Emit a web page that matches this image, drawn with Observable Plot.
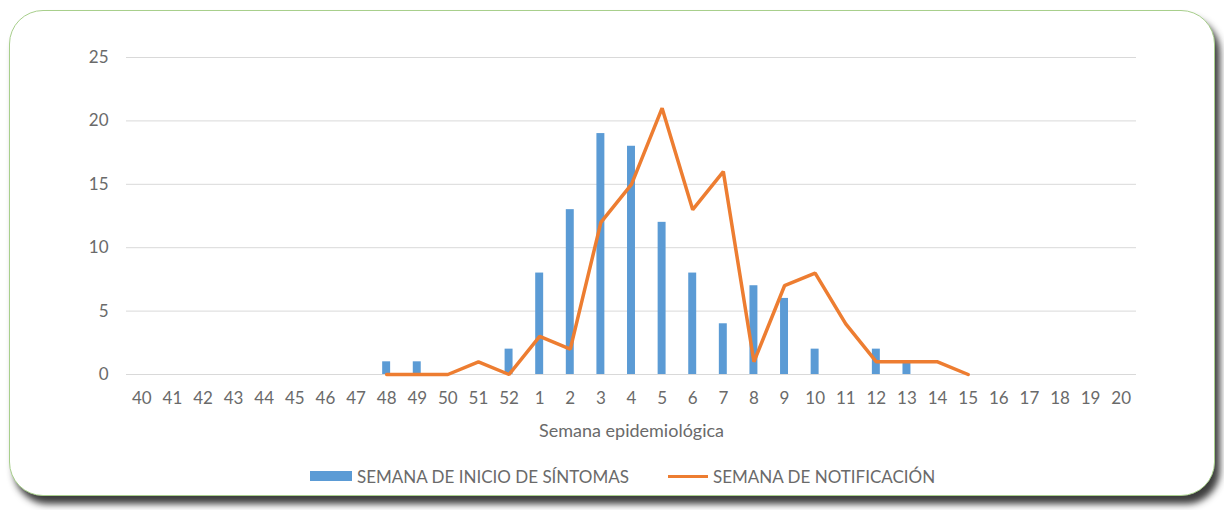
<!DOCTYPE html>
<html><head><meta charset="utf-8">
<script src="https://cdn.jsdelivr.net/npm/d3@7"></script>
<script src="https://cdn.jsdelivr.net/npm/@observablehq/plot@0.6"></script>
<style>
body{margin:0;background:#fff;font-family:Lato,sans-serif;width:1224px;height:510px;overflow:hidden;position:relative;}
#frame{position:absolute;left:9px;top:10px;width:1204px;height:484px;border:1px solid #a8cf8c;border-radius:34px;box-shadow:5px 8px 7px rgba(40,40,40,0.9);background:#fff;}
#chart{position:absolute;left:0;top:0;}
#legend{position:absolute;top:466px;left:0;width:1224px;height:20px;font-size:17px;color:#6a6a6a;}
.item{position:absolute;top:0;display:flex;align-items:center;height:20px;}
.sw-bar{width:42px;height:10px;background:#5B9BD5;margin-right:5px;}
.sw-line{width:40px;height:3px;background:#ED7D31;margin-right:5px;}
</style></head>
<body>
<div id="frame"></div>
<div id="chart"></div>
<div id="legend">
  <div class="item" style="left:310px"><div class="sw-bar"></div><span>SEMANA DE INICIO DE SÍNTOMAS</span></div>
  <div class="item" style="left:668px"><div class="sw-line"></div><span>SEMANA DE NOTIFICACIÓN</span></div>
</div>
<script>
const weeks = ["40","41","42","43","44","45","46","47","48","49","50","51","52","1","2","3","4","5","6","7","8","9","10","11","12","13","14","15","16","17","18","19","20"];
const onset = [0,0,0,0,0,0,0,0,1,1,0,0,2,8,13,19,18,12,8,4,7,6,2,0,2,1,0,0,0,0,0,0,0];
const notif = [null,null,null,null,null,null,null,null,0,0,0,1,0,3,2,12,15,21,13,16,1,7,8,4,1,1,1,0,null,null,null,null,null];
const yTicks = [0,5,10,15,20,25];

const barData = weeks.map((w,i)=>({i, week:w, value:onset[i]})).filter(d=>d.value>0);
const lineData = weeks.map((w,i)=>({i, week:w, value:notif[i]})).filter(d=>d.value!==null);
const half = 0.13; // half bar width, in category slots

const chart = Plot.plot({
  width:1224, height:450,
  marginLeft:126, marginRight:88, marginTop:57, marginBottom:76,
  style:{fontFamily:"Lato, sans-serif", fontSize:"17px", color:"#6a6a6a", background:"transparent"},
  x:{type:"linear", domain:[-0.5, weeks.length - 0.5]},
  y:{domain:[0,25]},
  marks:[
    Plot.gridY(yTicks,{stroke:"#d9d9d9", strokeOpacity:1, strokeWidth:1}),
    Plot.axisY({ticks:yTicks, tickSize:0, tickPadding:18, label:null, fontSize:17}),
    Plot.axisX({ticks:d3.range(weeks.length), tickFormat:i=>weeks[i], tickSize:0, tickPadding:17, label:null, fontSize:17}),
    Plot.text(["Semana epidemiológica"],{frameAnchor:"bottom", dy:62, fontSize:18, fill:"#6a6a6a"}),
    Plot.rectY(barData,{x1:d=>d.i-half, x2:d=>d.i+half, y:"value", fill:"#5B9BD5"}),
    Plot.line(lineData,{x:"i", y:"value", stroke:"#ED7D31", strokeWidth:3.5, strokeLinejoin:"miter"})
  ]
});
document.getElementById("chart").appendChild(chart);
</script>
</body></html>
